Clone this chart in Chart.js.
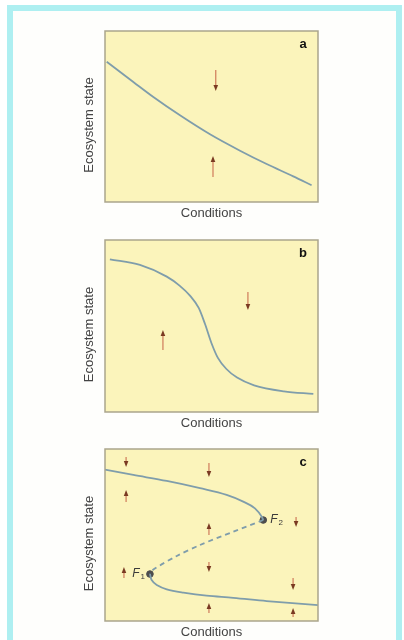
<!DOCTYPE html>
<html>
<head>
<meta charset="utf-8">
<script src="https://cdn.jsdelivr.net/npm/chart.js@4/dist/chart.umd.min.js"></script>
<style>
  html, body { margin: 0; padding: 0; background: #ffffff; }
  #page { position: relative; width: 404px; height: 640px; overflow: hidden; background: #ffffff; }
  #frame { position: absolute; left: 7px; top: 5px; width: 383px; height: 680px;
           border: 6px solid #aeeff1; background: #fefefc; }
  canvas { position: absolute; left: 0; }
</style>
</head>
<body>
<div id="page">
  <div id="frame"></div>
  <canvas id="panelA" width="404" height="222" style="top:0px"></canvas>
  <canvas id="panelB" width="404" height="210" style="top:222px"></canvas>
  <canvas id="panelC" width="404" height="208" style="top:432px"></canvas>
</div>
<script>
// ---- Panel a: smooth, gradual response ----
const condA  = [0.8, 13.3, 22.7, 35.2, 49.3, 63.4, 75.9, 88.4, 97.0];
const stateA = [82.0, 70.2, 61.4, 50.7, 39.6, 30.0, 22.2, 15.0, 9.8];
const arrowXA    = [52.0, 50.7];
const arrowFromA = [77.2, 14.6];
const arrowToA   = [64.9, 26.9];

// ---- Panel b: sharp threshold response ----
const condB  = [2.3, 16.4, 29.0, 35.0, 40.0, 44.0, 47.0, 50.0, 53.0, 57.0, 62.0, 70.0, 84.0, 97.8];
const stateB = [88.8, 85.5, 78.7, 73.5, 67.5, 60.5, 51.0, 40.0, 31.5, 25.0, 20.0, 15.5, 12.0, 10.5];
const arrowXB    = [27.2, 67.1];
const arrowFromB = [36.0, 69.8];
const arrowToB   = [47.7, 59.3];

// ---- Panel c: folded response with two bifurcation points ----
const condCUpper  = [0.0, 13.3, 29.0, 44.6, 57.1, 64.9, 70.4, 73.6, 74.3];
const stateCUpper = [88.0, 84.9, 81.4, 77.2, 73.3, 69.4, 65.5, 60.6, 58.7];
const condCMid    = [74.3, 60.2, 44.6, 33.7, 22.7, 21.1];
const stateCMid   = [58.7, 51.9, 44.2, 37.8, 29.9, 27.3];
const condCLower  = [21.1, 21.9, 24.3, 29.0, 36.8, 47.7, 60.2, 75.9, 100.0];
const stateCLower = [27.3, 23.8, 20.9, 18.4, 16.5, 14.7, 13.5, 11.6, 9.2];
const foldCond  = [21.1, 74.3];
const foldState = [27.3, 58.7];
const foldNames = ['1', '2'];
const arrowXC    = [9.9, 9.9, 48.8, 48.8, 48.8, 48.8, 89.7, 88.3, 88.3, 8.9];
const arrowFromC = [95.3, 69.2, 91.9, 50.0, 34.3, 4.7, 60.5, 25.0, 2.3, 25.0];
const arrowToC   = [89.5, 76.2, 83.7, 57.0, 28.5, 10.5, 54.7, 18.0, 7.6, 31.4];

const xTitle = 'Conditions';
const yTitle = 'Ecosystem state';
const letters = ['a', 'b', 'c'];

const FONT = '"Liberation Sans", Arial, sans-serif';
const CURVE = '#7f9dab';

function pts(xs, ys) { return xs.map((x, i) => ({ x, y: ys[i] })); }

// Background, frame, arrows and labels drawn on top of the Chart.js scales
const panelDecor = {
  id: 'panelDecor',
  beforeDatasetsDraw(chart) {
    const { ctx, chartArea: a } = chart;
    ctx.save();
    ctx.fillStyle = '#fbf4bb';
    ctx.fillRect(a.left, a.top, a.right - a.left, a.bottom - a.top);
    ctx.restore();
  },
  afterDatasetsDraw(chart, args, o) {
    const { ctx, chartArea: a, scales: { x, y } } = chart;
    ctx.save();
    // plot frame
    ctx.strokeStyle = '#aaa58c';
    ctx.lineWidth = 1.5;
    ctx.strokeRect(a.left, a.top, a.right - a.left, a.bottom - a.top);

    // arrows
    o.arrowX.forEach((ax, i) => {
      const px = x.getPixelForValue(ax);
      const p0 = y.getPixelForValue(o.arrowFrom[i]);
      const p1 = y.getPixelForValue(o.arrowTo[i]);
      const dir = Math.sign(p1 - p0);
      ctx.strokeStyle = '#cf7a5a';
      ctx.lineWidth = 1.2;
      ctx.beginPath();
      ctx.moveTo(px, p0);
      ctx.lineTo(px, p1 - dir * 4);
      ctx.stroke();
      ctx.fillStyle = '#7a3a22';
      ctx.beginPath();
      ctx.moveTo(px, p1);
      ctx.lineTo(px - 2.3, p1 - dir * 6);
      ctx.lineTo(px + 2.3, p1 - dir * 6);
      ctx.closePath();
      ctx.fill();
    });

    // fold point labels F1 / F2
    if (o.folds) {
      o.folds.cond.forEach((c, i) => {
        const px = x.getPixelForValue(c);
        const py = y.getPixelForValue(o.folds.state[i]);
        const right = i === 1;
        ctx.fillStyle = '#3a3a3a';
        ctx.textBaseline = 'middle';
        ctx.font = 'italic 12px ' + FONT;
        const fw = ctx.measureText('F').width;
        ctx.font = '8px ' + FONT;
        const sw = ctx.measureText(o.folds.names[i]).width;
        const startX = right ? px + 7 : px - 5 - fw - sw - 1;
        ctx.font = 'italic 12px ' + FONT;
        ctx.textAlign = 'left';
        ctx.fillText('F', startX, py);
        ctx.font = '8px ' + FONT;
        ctx.fillText(o.folds.names[i], startX + fw + 1, py + 3);
      });
    }

    // panel letter
    ctx.fillStyle = '#111';
    ctx.font = 'bold 13px ' + FONT;
    ctx.textAlign = 'center';
    ctx.textBaseline = 'middle';
    ctx.fillText(o.letter, a.right - 15, a.top + 13);

    // vertical axis caption
    ctx.save();
    ctx.translate(89.5, (a.top + a.bottom) / 2 + 8.5);
    ctx.rotate(-Math.PI / 2);
    ctx.fillStyle = '#444';
    ctx.font = '13px ' + FONT;
    ctx.textAlign = 'center';
    ctx.textBaseline = 'middle';
    ctx.fillText(yTitle, 0, 0);
    ctx.restore();

    ctx.restore();
  }
};

function makePanel(id, datasets, pad, decor) {
  return new Chart(document.getElementById(id), {
    type: 'scatter',
    data: { datasets },
    options: {
      responsive: false,
      animation: false,
      devicePixelRatio: 1,
      layout: { padding: { left: 105, right: 86, top: pad.top, bottom: pad.bottom } },
      plugins: { legend: { display: false }, tooltip: { enabled: false }, panelDecor: decor },
      scales: {
        x: {
          type: 'linear', min: 0, max: 100,
          grid: { display: false, drawTicks: false },
          border: { display: false },
          ticks: { display: false },
          title: { display: true, text: xTitle, color: '#444',
                   font: { family: FONT, size: 13 }, padding: { top: 3.2, bottom: 0 } }
        },
        y: {
          type: 'linear', min: 0, max: 100, display: false
        }
      }
    },
    plugins: [panelDecor]
  });
}

function curve(xs, ys, opts) {
  return Object.assign({
    data: pts(xs, ys), showLine: true, pointRadius: 0,
    borderColor: CURVE, borderWidth: 1.8,
    cubicInterpolationMode: 'monotone', clip: false
  }, opts || {});
}

makePanel('panelA', [curve(condA, stateA)], { top: 31, bottom: 1.2 },
  { letter: letters[0], arrowX: arrowXA, arrowFrom: arrowFromA, arrowTo: arrowToA });

makePanel('panelB', [curve(condB, stateB)], { top: 18, bottom: 1.2 },
  { letter: letters[1], arrowX: arrowXB, arrowFrom: arrowFromB, arrowTo: arrowToB });

makePanel('panelC', [
    curve(condCUpper, stateCUpper),
    curve(condCMid, stateCMid, { cubicInterpolationMode: 'default', tension: 0.3, borderDash: [5, 4] }),
    curve(condCLower, stateCLower, { cubicInterpolationMode: 'default', tension: 0.35 }),
    { data: pts(foldCond, foldState), showLine: false, pointRadius: 3.3,
      pointBackgroundColor: '#4d4d4d', pointBorderColor: '#4d4d4d' }
  ], { top: 17, bottom: 0.2 },
  { letter: letters[2], arrowX: arrowXC, arrowFrom: arrowFromC, arrowTo: arrowToC,
    folds: { cond: foldCond, state: foldState, names: foldNames } });
</script>
</body>
</html>
